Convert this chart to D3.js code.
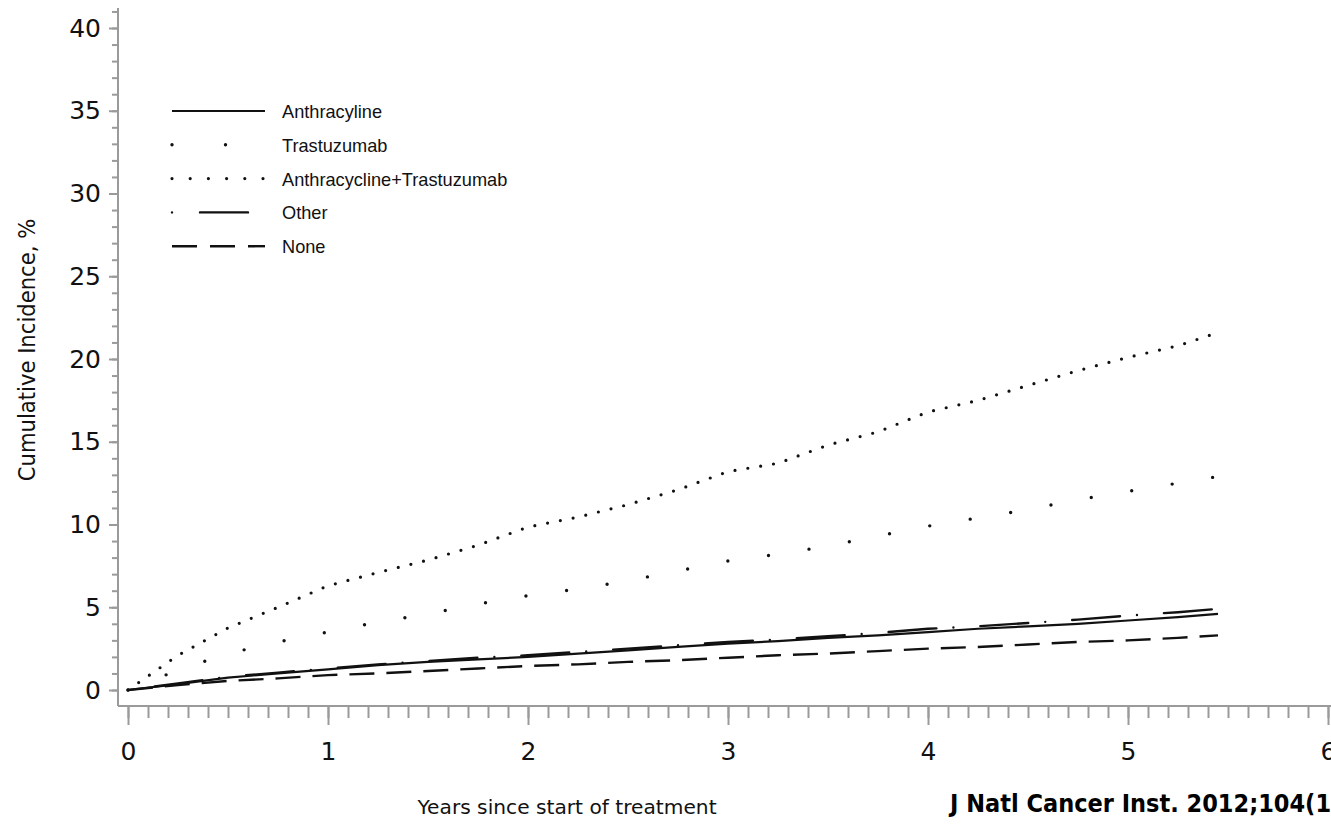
<!DOCTYPE html>
<html>
<head>
<meta charset="utf-8">
<script src="https://cdn.jsdelivr.net/npm/d3@7"></script>
<style>
  html, body { margin: 0; padding: 0; background: #fff; overflow: hidden; }
  svg { display: block; }
</style>
</head>
<body>
<script>
// Cumulative incidence of heart failure / cardiomyopathy by treatment group
const years = [0, 0.25, 0.5, 0.75, 1, 1.25, 1.5, 1.75, 2, 2.25, 2.5, 2.75, 3, 3.25, 3.5, 3.75, 4, 4.25, 4.5, 4.75, 5, 5.25, 5.45];
const anthracycline = [0, 0.35, 0.75, 1.0, 1.25, 1.5, 1.7, 1.85, 2.0, 2.2, 2.4, 2.6, 2.8, 2.95, 3.15, 3.3, 3.5, 3.7, 3.85, 4.0, 4.2, 4.4, 4.6];
const trastuzumab = [0, 1.2, 2.2, 2.9, 3.5, 4.1, 4.6, 5.2, 5.7, 6.1, 6.6, 7.2, 7.8, 8.2, 8.7, 9.3, 9.9, 10.4, 10.9, 11.5, 12.0, 12.5, 12.9];
const combination = [0, 2.1, 3.75, 5.0, 6.3, 7.1, 7.85, 8.75, 9.85, 10.45, 11.2, 12.1, 13.2, 13.7, 14.8, 15.6, 16.8, 17.5, 18.4, 19.3, 20.1, 20.8, 21.6];
const other = [0, 0.4, 0.8, 1.05, 1.3, 1.55, 1.75, 1.95, 2.1, 2.3, 2.5, 2.7, 2.9, 3.05, 3.25, 3.45, 3.7, 3.85, 4.05, 4.25, 4.5, 4.7, 4.9];
const none = [0, 0.3, 0.55, 0.7, 0.9, 1.0, 1.15, 1.3, 1.45, 1.55, 1.7, 1.8, 1.95, 2.1, 2.2, 2.35, 2.5, 2.6, 2.75, 2.9, 3.0, 3.15, 3.3];

const seriesNames = ["Anthracyline", "Trastuzumab", "Anthracycline+Trastuzumab", "Other", "None"];
const seriesValues = [anthracycline, trastuzumab, combination, other, none];

const xTicks = [0, 1, 2, 3, 4, 5, 6];
const yTicks = [0, 5, 10, 15, 20, 25, 30, 35, 40];

const xTitle = "Years since start of treatment";
const yTitle = "Cumulative Incidence, %";
const citation = "J Natl Cancer Inst. 2012;104(17)";

// line styles: chart dash pattern and legend dash pattern
const styles = [
  { dash: null, legendDash: null, width: 2.2, cap: "butt" },
  { dash: "0 41", legendDash: "0 53.5", width: 3.4, cap: "round" },
  { dash: "0 13", legendDash: "0 18.2", width: 3.2, cap: "round" },
  { dash: "0 27 48 17", legendDash: "0 28 48 30", width: 2.4, cap: "round" },
  { dash: "25 12", legendDash: "25 13", width: 2.4, cap: "butt" }
];

const W = 1331, H = 825;
const svg = d3.select("body").append("svg").attr("width", W).attr("height", H);

const x = d3.scaleLinear().domain([0, 6]).range([128, 1328]);
const y = d3.scaleLinear().domain([0, 40]).range([690, 28]);

const axisColor = "#9a9a9a";
const axisLeftX = 118, axisBottomY = 706;

// axis lines
svg.append("line").attr("x1", axisLeftX).attr("x2", axisLeftX)
  .attr("y1", 8).attr("y2", axisBottomY)
  .attr("stroke", axisColor).attr("stroke-width", 2);
svg.append("line").attr("x1", axisLeftX).attr("x2", W)
  .attr("y1", axisBottomY).attr("y2", axisBottomY)
  .attr("stroke", axisColor).attr("stroke-width", 2);

// x axis ticks (major + minor every 0.1 year)
const xAxisMinor = d3.axisBottom(x).tickValues(d3.range(0, 61).map(d => d / 10))
  .tickSize(12).tickFormat("");
const gxm = svg.append("g").attr("transform", `translate(0,${axisBottomY})`).call(xAxisMinor);
const xAxis = d3.axisBottom(x).tickValues(xTicks).tickSize(19).tickPadding(17)
  .tickFormat(d3.format("d"));
const gx = svg.append("g").attr("transform", `translate(0,${axisBottomY})`).call(xAxis);

// y axis ticks (major + minor every 1)
const yAxisMinor = d3.axisLeft(y).tickValues(d3.range(0, 42)).tickSize(6).tickFormat("");
const gym = svg.append("g").attr("transform", `translate(${axisLeftX},0)`).call(yAxisMinor);
const yAxis = d3.axisLeft(y).tickValues(yTicks).tickSize(9).tickPadding(8)
  .tickFormat(d3.format("d"));
const gy = svg.append("g").attr("transform", `translate(${axisLeftX},0)`).call(yAxis);

[gxm, gx, gym, gy].forEach(g => {
  g.select(".domain").remove();
  g.selectAll(".tick line").attr("stroke", axisColor).attr("stroke-width", 2);
  g.selectAll(".tick text")
    .attr("fill", "#111")
    .style("font-family", "'DejaVu Sans', Verdana, sans-serif")
    .style("font-size", "25px");
});

// curves
const line = d3.line()
  .x((d, i) => x(years[i]))
  .y(d => y(d));

seriesValues.forEach((vals, k) => {
  const s = styles[k];
  svg.append("path")
    .attr("d", line(vals))
    .attr("fill", "none")
    .attr("stroke", "#111")
    .attr("stroke-width", s.width)
    .attr("stroke-linecap", s.cap)
    .attr("stroke-dasharray", s.dash);
});

// legend
const legend = svg.append("g").attr("transform", "translate(172,111)");
seriesNames.forEach((name, k) => {
  const s = styles[k];
  const row = legend.append("g").attr("transform", `translate(0,${k * 33.8})`);
  row.append("line").attr("x1", 0).attr("x2", 93).attr("y1", 0).attr("y2", 0)
    .attr("stroke", "#111").attr("stroke-width", s.width)
    .attr("stroke-linecap", s.cap).attr("stroke-dasharray", s.legendDash);
  row.append("text").attr("x", 110).attr("y", 7)
    .style("font-family", "'Liberation Sans', Arial, sans-serif")
    .style("font-size", "18.2px").attr("fill", "#111").text(name);
});

// axis titles
svg.append("text")
  .attr("transform", "translate(35,350) rotate(-90)")
  .attr("text-anchor", "middle")
  .style("font-family", "'Liberation Sans Narrow', 'DejaVu Sans Condensed', sans-serif")
  .style("font-size", "23.5px").attr("fill", "#111").text(yTitle);

svg.append("text")
  .attr("x", 567).attr("y", 814).attr("text-anchor", "middle")
  .style("font-family", "'DejaVu Sans', Verdana, sans-serif")
  .style("font-size", "20.2px").attr("fill", "#111").text(xTitle);

svg.append("text")
  .attr("x", 950).attr("y", 812)
  .style("font-family", "'Liberation Sans Narrow', 'DejaVu Sans Condensed', sans-serif")
  .style("font-weight", "bold")
  .style("font-size", "25px").attr("fill", "#000").text(citation);
</script>
</body>
</html>
